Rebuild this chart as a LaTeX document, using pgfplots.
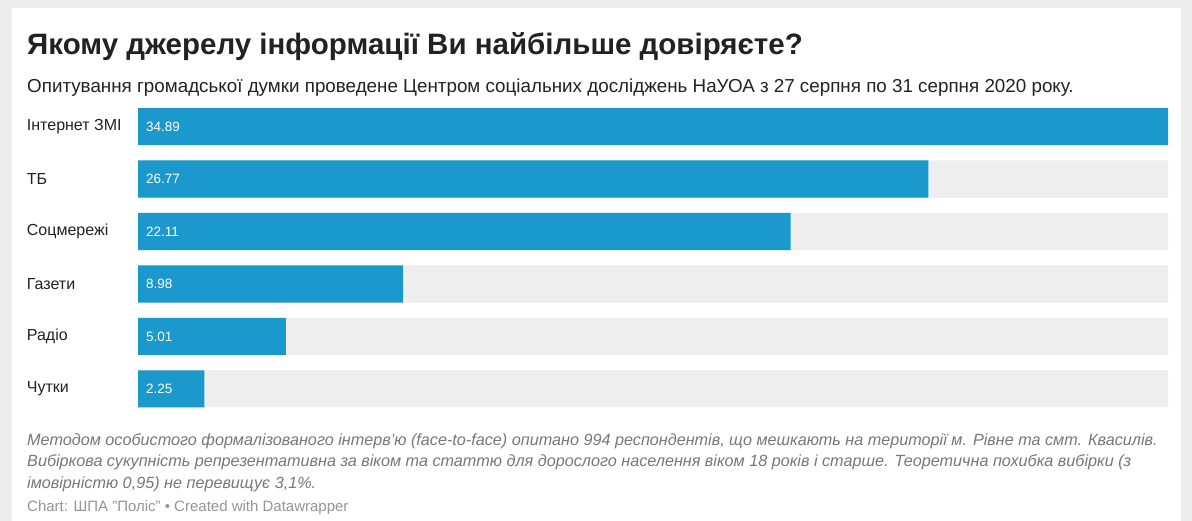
\documentclass[border=0pt]{standalone}
\usepackage{pgfplots}
\pgfplotsset{compat=1.18}
\usepackage{fontspec}
\setmainfont{Liberation Sans}
\definecolor{barblue}{RGB}{27,152,204}
\definecolor{bargray}{RGB}{238,238,238}
\definecolor{frame}{RGB}{236,236,236}
\definecolor{txt}{RGB}{34,34,34}
\definecolor{note}{RGB}{120,120,120}
\definecolor{credit}{RGB}{150,150,150}
\begin{document}
\begin{tikzpicture}[x=1pt,y=1pt]
\fill[frame] (0,0) rectangle (1192,-521);
\fill[white] (12,-8) rectangle (1181,-521);
\node[anchor=base west, inner sep=0, font=\fontsize{29.5}{32}\selectfont\bfseries, text=txt] at (27,-55) {Якому джерелу інформації Ви найбільше довіряєте?};
\node[anchor=base west, inner sep=0, font=\fontsize{18.8}{21}\selectfont, text=txt] at (27,-93) {Опитування громадської думки проведене Центром соціальних досліджень НаУОА з 27 серпня по 31 серпня 2020 року.};
\begin{axis}[
  at={(138pt,-100.25pt)}, anchor=north west,
  scale only axis, width=1030pt, height=315pt,
  xmin=0, xmax=34.89, ymin=0.5, ymax=6.5, y dir=reverse,
  axis line style={draw=none}, tick style={draw=none},
  xtick=\empty, ytick={1,2,3,4,5,6},
  yticklabels={Інтернет ЗМІ,ТБ,Соцмережі,Газети,Радіо,Чутки},
  yticklabel style={anchor=west, xshift=-107pt, inner sep=0pt, font=\fontsize{16}{18}\selectfont, text=txt},
  xbar, bar width=37pt, bar shift=0pt,
  clip=false,
]
\addplot[fill=bargray, draw=none] coordinates {(34.89,1) (34.89,2) (34.89,3) (34.89,4) (34.89,5) (34.89,6)};
\addplot[fill=barblue, draw=none] coordinates {(34.89,1) (26.77,2) (22.11,3) (8.98,4) (5.01,5) (2.25,6)};
\addplot[draw=none, mark=none, xbar=false, nodes near coords, point meta=explicit symbolic,
  nodes near coords style={anchor=west, xshift=8pt, inner sep=0pt, text=white, font=\fontsize{13.5}{16}\selectfont}]
  table[meta=label] {
x y label
0 1 34.89
0 2 26.77
0 3 22.11
0 4 8.98
0 5 5.01
0 6 2.25
};
\end{axis}
\begin{scope}[every node/.style={anchor=base west, inner sep=0, font=\fontsize{16.2}{18}\selectfont\itshape, text=note}]
\node at (27,-445) {Методом особистого формалізованого інтерв'ю (face-to-face) опитано 994 респондентів, що мешкають на території м. Рівне та смт. Квасилів.};
\node at (27,-466.5) {Вибіркова сукупність репрезентативна за віком та статтю для дорослого населення віком 18 років і старше. Теоретична похибка вибірки (з};
\node at (27,-488) {імовірністю 0,95) не перевищує 3,1\%.};
\end{scope}
\node[anchor=base west, inner sep=0, font=\fontsize{15}{17}\selectfont, text=credit] at (27,-511.5) {Chart: ШПА "Поліс" • Created with Datawrapper};
\end{tikzpicture}
\end{document}
